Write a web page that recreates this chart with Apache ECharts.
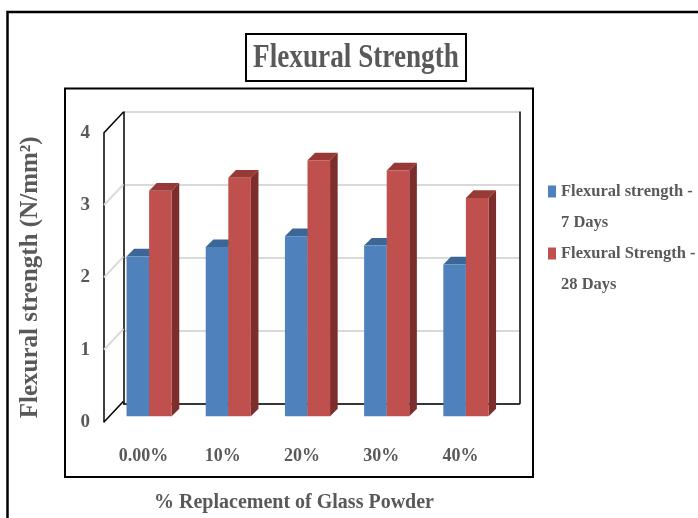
<!DOCTYPE html>
<html>
<head>
<meta charset="utf-8">
<title>Flexural Strength</title>
<script src="https://cdn.jsdelivr.net/npm/echarts@6/dist/echarts.min.js"></script>
<style>
  html, body { margin: 0; padding: 0; background: #ffffff; }
  #chart { width: 698px; height: 518px; }
</style>
</head>
<body>
<div id="chart"></div>
<script>
// Mix proportions (% of cement replaced by glass powder)
const categories = ['0.00%', '10%', '20%', '30%', '40%'];
// Flexural strength in N/mm²
const strength7Days = [2.21, 2.34, 2.49, 2.36, 2.10];
const strength28Days = [3.12, 3.30, 3.54, 3.40, 3.02];
const seriesNames = ['Flexural strength - 7 Days', 'Flexural Strength - 28 Days'];
// Value axis ticks
const yTickValues = [0, 1, 2, 3, 4];

const TEXT = '#595959';
const FONT = '"Liberation Serif", "Times New Roman", serif';

// Oblique projection offsets (pixels) used for the 3D look
const WALL_DX = 19.5, WALL_DY = 20.7;   // back wall relative to front plane
const BAR_DX = 5.5, BAR_DY = 5.7;       // bar front faces relative to front plane
const BAR_DEPTH = 7.6;                  // visible bar thickness
const BAR_FRAC = 0.285;                 // bar width as a share of the category band

const palettes = [
  { front: '#4f81bd', top: '#3c6695', side: '#2f5179' },
  { front: '#c0504d', top: '#973a37', side: '#7b2e2c' }
];

function bar3d(slot) {
  const pal = palettes[slot];
  return function (params, api) {
    const cat = api.value(0);
    const val = api.value(1);
    const base = api.coord([cat, 0]);
    const top = api.coord([cat, val]);
    const band = api.size([1, 0])[0];
    const w = band * BAR_FRAC;
    const x0 = base[0] + BAR_DX + (slot === 0 ? -w : 0);
    const x1 = x0 + w;
    const yb = base[1] - BAR_DY;
    const yt = top[1] - BAR_DY;
    const d = BAR_DEPTH;
    return {
      type: 'group',
      children: [
        {
          type: 'polygon',
          shape: { points: [[x1, yt], [x1 + d, yt - d], [x1 + d, yb - d], [x1, yb]] },
          style: { fill: pal.side }
        },
        {
          type: 'polygon',
          shape: { points: [[x0, yt], [x0 + d, yt - d], [x1 + d, yt - d], [x1, yt]] },
          style: { fill: pal.top }
        },
        {
          type: 'rect',
          shape: { x: x0, y: yt, width: w, height: yb - yt },
          style: { fill: pal.front }
        }
      ]
    };
  };
}

// Side wall: lines joining each tick on the front axis with the back wall
function sideWall(params, api) {
  const v = api.value(1);
  const y = api.coord([0, v])[1];
  const x = params.coordSys.x;
  const edge = (v === yTickValues[0] || v === yTickValues[yTickValues.length - 1]);
  return {
    type: 'line',
    shape: { x1: x, y1: y, x2: x + WALL_DX, y2: y - WALL_DY },
    style: { stroke: edge ? '#000000' : '#d9d9d9', lineWidth: edge ? 1.5 : 2 }
  };
}

const FRONT = { left: 104, top: 132.7, width: 396, height: 291.3 };
const BACK = {
  left: FRONT.left + WALL_DX, top: FRONT.top - WALL_DY,
  width: FRONT.width, height: FRONT.height
};

const chart = echarts.init(document.getElementById('chart'), null, { renderer: 'canvas' });

chart.setOption({
  backgroundColor: '#ffffff',
  animation: false,
  graphic: [
    {
      type: 'rect', z: 0,
      shape: { x: 7.5, y: 12, width: 760, height: 560 },
      style: { fill: 'none', stroke: '#000000', lineWidth: 2.5 }
    },
    {
      type: 'rect', z: 0,
      shape: { x: 65, y: 88.5, width: 468, height: 388.5 },
      style: { fill: 'none', stroke: '#000000', lineWidth: 2 }
    },
    {
      type: 'rect', z: 0,
      shape: { x: 246, y: 34, width: 220, height: 47 },
      style: { fill: 'none', stroke: '#000000', lineWidth: 2 }
    },
    {
      type: 'text', z: 1,
      x: 356, y: 58, scaleX: 0.8,
      style: {
        text: 'Flexural Strength',
        font: 'bold 34px ' + FONT,
        fill: TEXT,
        align: 'center',
        verticalAlign: 'middle'
      }
    }
  ],
  legend: {
    data: seriesNames,
    orient: 'vertical',
    left: 543,
    top: 140,
    itemGap: -31,
    itemWidth: 8,
    itemHeight: 12,
    icon: 'rect',
    selectedMode: false,
    formatter: function (name) {
      return '\n' + name.replace(' - ', ' -\n');
    },
    textStyle: {
      color: TEXT,
      fontFamily: FONT,
      fontWeight: 'bold',
      fontSize: 16.5,
      lineHeight: 31
    }
  },
  grid: [
    { left: FRONT.left, top: FRONT.top, width: FRONT.width, height: FRONT.height },
    { left: BACK.left, top: BACK.top, width: BACK.width, height: BACK.height }
  ],
  xAxis: [
    {
      type: 'category',
      gridIndex: 0,
      data: categories,
      axisLine: { show: false },
      axisTick: { show: false },
      splitLine: { show: false },
      axisLabel: {
        color: TEXT, fontFamily: FONT, fontWeight: 'bold', fontSize: 18, margin: 25
      },
      name: '% Replacement of Glass Powder',
      nameLocation: 'middle',
      nameGap: 71,
      nameTextStyle: {
        color: TEXT, fontFamily: FONT, fontWeight: 'bold', fontSize: 20,
        padding: [0, 16, 0, 0]
      }
    },
    {
      type: 'category',
      gridIndex: 1,
      data: categories,
      axisLine: { show: true, lineStyle: { color: '#000000', width: 1.5 } },
      axisTick: { show: false },
      axisLabel: { show: false },
      splitLine: { show: false }
    }
  ],
  yAxis: [
    {
      type: 'value',
      gridIndex: 0,
      min: 0, max: 4, interval: 1,
      axisLine: { show: true, lineStyle: { color: '#000000', width: 1.5 } },
      axisTick: { show: false },
      splitLine: { show: false },
      axisLabel: {
        color: TEXT, fontFamily: FONT, fontWeight: 'bold', fontSize: 19, margin: 14
      },
      name: 'Flexural strength (N/mm²)',
      nameLocation: 'middle',
      nameRotate: 90,
      nameGap: 61,
      nameTextStyle: {
        color: TEXT, fontFamily: FONT, fontWeight: 'bold', fontSize: 25
      }
    },
    {
      type: 'value',
      gridIndex: 1,
      min: 0, max: 4, interval: 1,
      axisLine: { show: true, lineStyle: { color: '#000000', width: 1.5 } },
      axisTick: { show: false },
      axisLabel: { show: false },
      splitLine: { show: true, lineStyle: { color: '#d9d9d9', width: 2 } }
    },
    {
      type: 'value',
      gridIndex: 1,
      position: 'right',
      min: 0, max: 4, interval: 1,
      axisLine: { show: true, lineStyle: { color: '#000000', width: 1.5 } },
      axisTick: { show: false },
      axisLabel: { show: false },
      splitLine: { show: false }
    }
  ],
  series: [
    {
      name: 'side wall',
      type: 'custom',
      xAxisIndex: 0, yAxisIndex: 0,
      silent: true,
      z: 1,
      renderItem: sideWall,
      data: yTickValues.map(function (v) { return [0, v]; })
    },
    {
      name: seriesNames[0],
      type: 'custom',
      xAxisIndex: 0, yAxisIndex: 0,
      z: 3,
      itemStyle: { color: palettes[0].front },
      renderItem: bar3d(0),
      data: strength7Days.map(function (v, i) { return [i, v]; })
    },
    {
      name: seriesNames[1],
      type: 'custom',
      xAxisIndex: 0, yAxisIndex: 0,
      z: 4,
      itemStyle: { color: palettes[1].front },
      renderItem: bar3d(1),
      data: strength28Days.map(function (v, i) { return [i, v]; })
    }
  ]
});
</script>
</body>
</html>
